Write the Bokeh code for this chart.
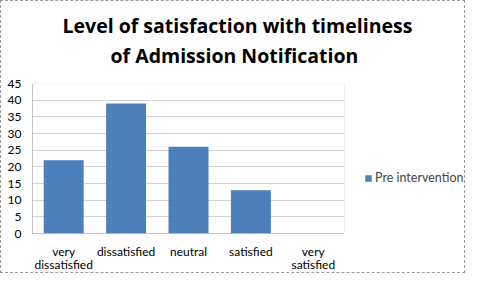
from bokeh.plotting import figure
from bokeh.models import (Title, Legend, LegendItem, ColumnDataSource, SingleIntervalTicker,
                          FixedTicker, BoxAnnotation, Range1d, LinearAxis)
from bokeh.embed import file_html
from bokeh.resources import INLINE

categories = ["very\ndissatisfied", "dissatisfied", "neutral", "satisfied", "very\nsatisfied"]
pre_intervention = [22, 39, 26, 13, 0]
series_name = "Pre intervention"
title_lines = ["Level of satisfaction with timeliness", "of Admission Notification"]
y_max = 45
y_step = 5

# layout constants (pixels)
W, H = 465, 273
LEFT, RIGHT, TOP, BOTTOM = 31, 2, 82, 39
CAT_PX = 62.4  # pixel width of one category slot

n = len(categories)
xs = list(range(n))
frame_w = W - LEFT - RIGHT
x_end = -0.5 + frame_w / CAT_PX

first_lines = {i: c.split("\n")[0] for i, c in zip(xs, categories)}
second_lines = {i: c.split("\n")[1] for i, c in zip(xs, categories) if "\n" in c}

src = ColumnDataSource(dict(x=xs, val=pre_intervention))

p = figure(x_range=Range1d(-0.5, x_end), y_range=Range1d(0, y_max), width=W, height=H,
           output_backend="svg", toolbar_location=None,
           min_border_left=LEFT, min_border_right=RIGHT, min_border_bottom=BOTTOM,
           min_border_top=TOP)
p.title = None

# spacer between plot frame and title
p.add_layout(Title(text=" ", text_font_size="6px", standoff=7), "above")
p.add_layout(Title(text=title_lines[1], align="left", offset=78, text_font="Open Sans",
                   text_font_style="bold", text_font_size="19.5px", text_color="#000000",
                   standoff=0), "above")
p.add_layout(Title(text=title_lines[0], align="left", offset=30, text_font="Open Sans",
                   text_font_style="bold", text_font_size="19.5px", text_color="#000000",
                   standoff=2), "above")

r = p.vbar(x="x", top="val", width=0.64, source=src, fill_color="#4F81BD",
           line_color=None,
           hatch_pattern="dot", hatch_color="#2f5f9a", hatch_alpha=0.35, hatch_scale=2)

p.outline_line_color = None

p.yaxis.ticker = SingleIntervalTicker(interval=y_step)
p.ygrid.grid_line_color = "#a6a6a6"
p.ygrid.grid_line_dash = "1 1"
p.xgrid.grid_line_color = None

p.xaxis.ticker = FixedTicker(ticks=xs)
p.xaxis.major_label_overrides = first_lines
p.xaxis.bounds = (-0.5, n - 0.5)
p.xaxis.major_label_standoff = 10

# second line of the two-line category labels
ax2 = LinearAxis(ticker=FixedTicker(ticks=list(second_lines.keys())),
                 major_label_overrides=second_lines, axis_line_color=None,
                 major_label_standoff=-5)
p.add_layout(ax2, "below")

for ax in (p.xaxis[0], ax2, p.yaxis[0]):
    ax.major_tick_line_color = None
    ax.minor_tick_line_color = None
    ax.major_tick_out = 0
    ax.minor_tick_out = 0
    ax.major_tick_in = 0
    ax.minor_tick_in = 0
    ax.major_label_text_font = "Lato"
    ax.major_label_text_font_size = "12px"
    ax.major_label_text_color = "#000000"
for ax in (p.xaxis[0], p.yaxis[0]):
    ax.axis_line_color = "#909090"
    ax.axis_line_dash = "1 1"
p.yaxis.major_label_standoff = 11

# white out the gridlines beyond the category area (legend area)
p.add_layout(BoxAnnotation(left=n - 0.5, fill_color="white", fill_alpha=1, line_color=None))
# dotted plot-area outline
p.add_layout(BoxAnnotation(left=-0.5, right=n - 0.5, bottom=0, top=y_max,
                           fill_alpha=0, fill_color=None, line_color="#a0a0a0",
                           line_dash="1 1", line_width=1))

legend = Legend(items=[LegendItem(label=series_name, renderers=[r])],
                location=(332, 48), border_line_color=None, background_fill_alpha=0,
                label_text_font="Lato", label_text_font_size="12.5px",
                glyph_width=8, glyph_height=8, label_standoff=3, padding=2, margin=0)
p.add_layout(legend)

p.styles = {"border": "1px dashed #9a9a9a", "box-sizing": "border-box"}

open("out.html", "w").write(file_html(p, INLINE))
